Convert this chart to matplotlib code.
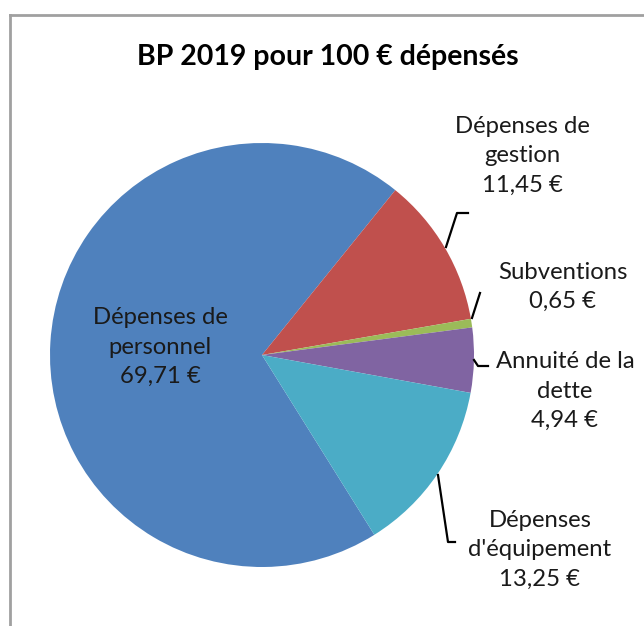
import matplotlib.pyplot as plt
from matplotlib.lines import Line2D

plt.rcParams['font.family'] = ['Lato', 'DejaVu Sans']

# Données du BP 2019
postes = ["Dépenses de\npersonnel", "Dépenses de\ngestion", "Subventions",
          "Annuité de la\ndette", "Dépenses\nd'équipement"]
montants = [69.71, 11.45, 0.65, 4.94, 13.25]
couleurs = ["#4F81BD", "#C0504D", "#9BBB59", "#8064A2", "#4BACC6"]

W, H = 644, 626
fig = plt.figure(figsize=(W / 100, H / 100), dpi=100)
ax = fig.add_axes([0, 0, 1, 1])

cx, cy, r = 262, H - 355, 212
ax.pie(montants, colors=couleurs, startangle=-58, counterclock=False,
       center=(cx, cy), radius=r, frame=True,
       wedgeprops=dict(linewidth=0))
ax.set_xlim(0, W)
ax.set_ylim(0, H)
ax.set_aspect('equal')
ax.axis('off')

# position des étiquettes (pixels, depuis le haut)
pos = [(160, 347), (522, 156), (563, 287), (565, 391), (540, 550)]
for nom, val, (x, y) in zip(postes, montants, pos):
    txt = nom + "\n" + ("%.2f" % val).replace(".", ",") + " €"
    ax.text(x, H - y, txt, ha='center', va='center', fontsize=17.2,
            color='#1a1a1a', linespacing=1.48)

# lignes de rappel
rappels = [
    [(446, 247), (457, 213), (468, 213)],
    [(472, 318), (480, 293)],
    [(474, 360), (478, 366), (488, 366)],
    [(438, 475), (448, 542), (455, 542)],
]
for pts in rappels:
    ax.plot([p[0] for p in pts], [H - p[1] for p in pts], color='black', lw=1.6)

ax.text(328, H - 57, "BP 2019 pour 100 € dépensés", ha='center', va='center',
        fontsize=20.5, fontweight='bold', color='black')

# cadre du graphique
fig.add_artist(Line2D([10 / W, 10 / W], [0, 1 - 15 / H], color='#a0a0a0', lw=2))
fig.add_artist(Line2D([10 / W, 1], [1 - 15 / H, 1 - 15 / H], color='#a0a0a0', lw=2))

fig.savefig("out.png", dpi=100)
